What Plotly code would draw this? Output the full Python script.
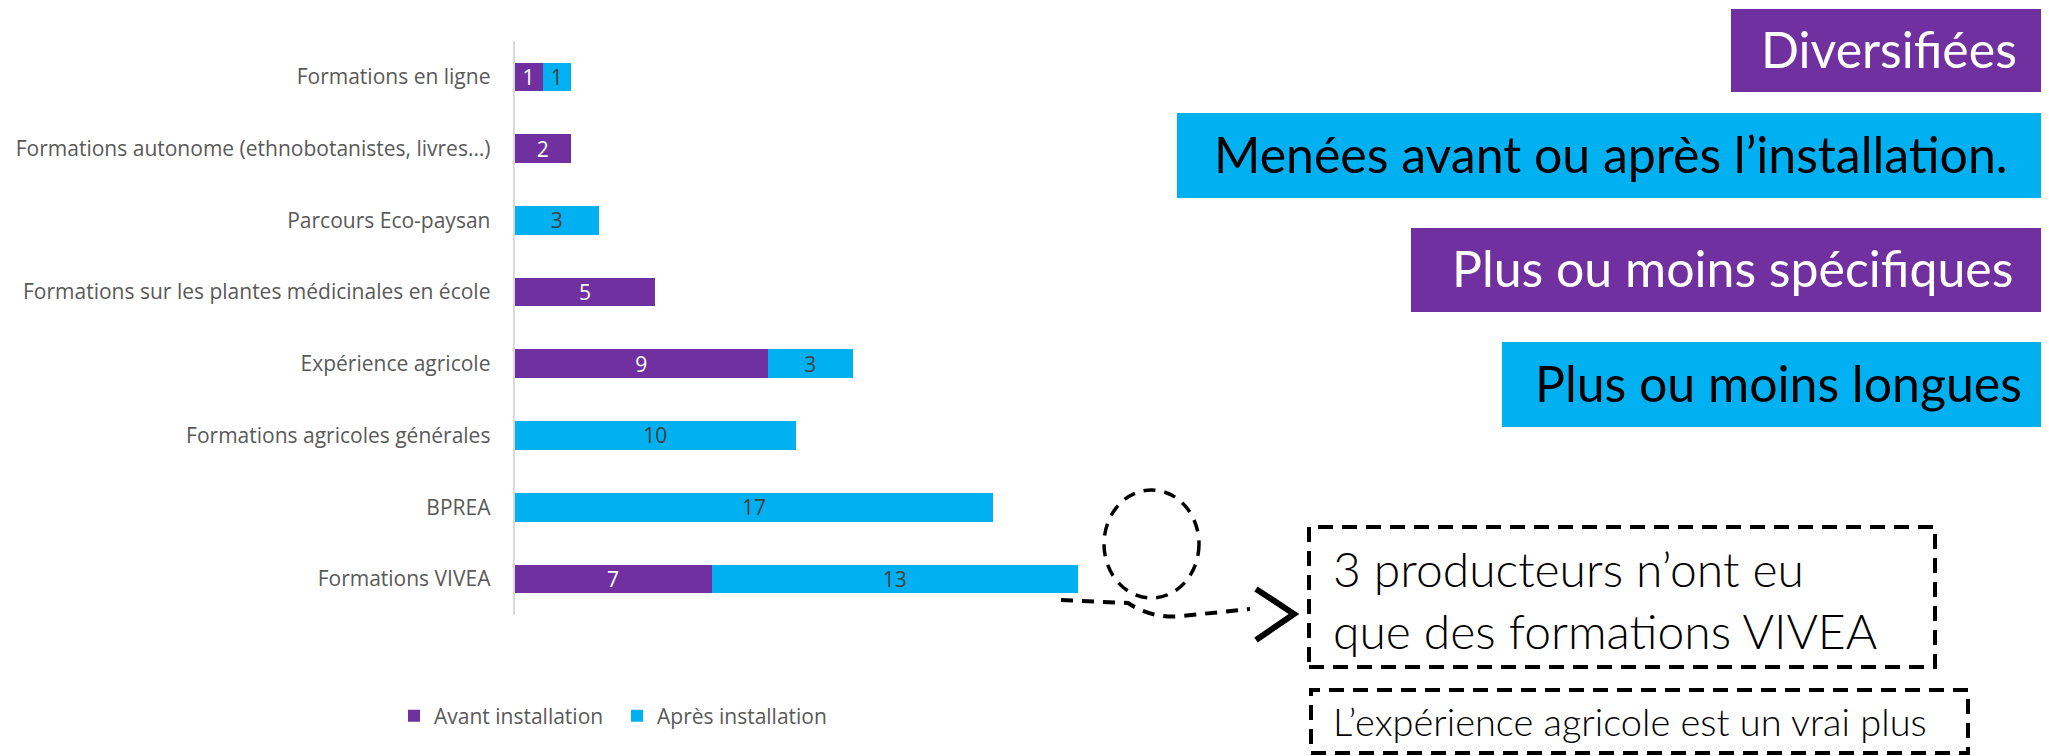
import plotly.graph_objects as go

# ---- data ----
categories = [
    "Formations en ligne",
    "Formations autonome (ethnobotanistes, livres…)",
    "Parcours Eco-paysan",
    "Formations sur les plantes médicinales en école",
    "Expérience agricole",
    "Formations agricoles générales",
    "BPREA",
    "Formations VIVEA",
]
avant = [1, 2, None, 5, 9, None, None, 7]
apres = [1, None, 3, None, 3, 10, 17, 13]
series_names = ["Avant installation", "Après installation"]

side_labels = ["Diversifiées", "Menées avant ou après l’installation.",
               "Plus ou moins spécifiques", "Plus ou moins longues"]
note_main = "3 producteurs n’ont eu<br>que des formations VIVEA"
note_small = "L’expérience agricole est un vrai plus"

PURPLE = "#7030A0"
BLUE = "#00B0F0"
W, H = 2049, 756
OFF = 8  # page body margin offset


def px(x):
    return (x - OFF) / W


def py(y):
    return 1 - (y - OFF) / H


def lbl(vals):
    return ["" if v is None else str(v) for v in vals]


fig = go.Figure()
fig.add_bar(y=categories, x=avant, orientation="h", name=series_names[0],
            marker=dict(color=PURPLE, line=dict(width=0)),
            text=lbl(avant), textposition="inside", insidetextanchor="middle",
            textangle=0,
            textfont=dict(color="white", size=21, family="Open Sans"),
            constraintext="none", hoverinfo="skip")
fig.add_bar(y=categories, x=apres, orientation="h", name=series_names[1],
            marker=dict(color=BLUE, line=dict(width=0)),
            text=lbl(apres), textposition="inside", insidetextanchor="middle",
            textangle=0,
            textfont=dict(color="#404040", size=21, family="Open Sans"),
            constraintext="none", hoverinfo="skip")

unit = 28.17
x0 = 514.5
fig.update_layout(
    width=W, height=H,
    margin=dict(l=0, r=0, t=0, b=0),
    paper_bgcolor="white", plot_bgcolor="white",
    barmode="stack", bargap=0.6,
    showlegend=True,
    legend=dict(orientation="h", x=px(394), y=py(716), xanchor="left", yanchor="middle",
                font=dict(family="Open Sans", size=21, color="#595959"),
                traceorder="normal", entrywidth=178),
    xaxis=dict(domain=[px(x0), 1], range=[0, (W - x0 + OFF) / unit], visible=False,
               showgrid=False, zeroline=False, fixedrange=True),
    yaxis=dict(domain=[py(614.8), py(41)], type="category",
               categoryorder="array", categoryarray=categories, autorange="reversed",
               showline=True, linecolor="#D9D9D9", linewidth=1.7,
               ticks="", showgrid=False, zeroline=False, automargin=False,
               ticklabelstandoff=18,
               tickfont=dict(family="Open Sans", size=21, color="#595959")),
)

shapes = []
annotations = []
# coloured label boxes on the right
boxes = [  # (x_left, y_top, y_bottom, fill, text colour, text right x)
    (1731, 9, 92, PURPLE, "white", 2019),
    (1177, 113, 198, BLUE, "black", 2010),
    (1411, 228, 312, PURPLE, "white", 2015),
    (1502, 342, 427, BLUE, "black", 2024),
]
for (xl, yt, yb, fill, tc, xr), txt in zip(boxes, side_labels):
    shapes.append(dict(type="rect", xref="paper", yref="paper",
                       x0=px(xl), x1=px(W + 20), y0=py(yb), y1=py(yt),
                       fillcolor=fill, line=dict(width=0), layer="below"))
    annotations.append(dict(text=txt, xref="paper", yref="paper",
                            x=px(xr), y=py((yt + yb) / 2 - 2), xanchor="right", yanchor="middle",
                            showarrow=False,
                            font=dict(family="Lato", size=50, color=tc)))

dash = "15px,9px"
# dashed boxes
shapes.append(dict(type="rect", xref="paper", yref="paper",
                   x0=px(1309), x1=px(1935), y0=py(667), y1=py(527),
                   line=dict(color="black", width=4, dash=dash)))
shapes.append(dict(type="rect", xref="paper", yref="paper",
                   x0=px(1311), x1=px(1968), y0=py(753), y1=py(690),
                   line=dict(color="black", width=4, dash=dash)))
# dashed ellipse
shapes.append(dict(type="circle", xref="paper", yref="paper",
                   x0=px(1104), x1=px(1199), y0=py(598), y1=py(490),
                   line=dict(color="black", width=3.5, dash="12px,9px")))
# dashed curved connector
path = (f"M {px(1061)},{py(600)} L {px(1128)},{py(603)} "
        f"Q {px(1152)},{py(619)} {px(1182)},{py(616)} L {px(1250)},{py(609)}")
shapes.append(dict(type="path", xref="paper", yref="paper", path=path,
                   line=dict(color="black", width=4, dash="12px,9px")))
# chevron arrow head
chev = f"M {px(1256)},{py(589)} L {px(1294)},{py(614)} L {px(1256)},{py(640)}"
shapes.append(dict(type="path", xref="paper", yref="paper", path=chev,
                   line=dict(color="black", width=6)))

annotations.append(dict(text=note_main, xref="paper", yref="paper",
                        x=px(1331), y=py(599), xanchor="left", yanchor="middle",
                        align="left", showarrow=False,
                        font=dict(family="Lato", size=48, weight=300, color="black")))
annotations.append(dict(text=note_small, xref="paper", yref="paper",
                        x=px(1331), y=py(721), xanchor="left", yanchor="middle",
                        align="left", showarrow=False,
                        font=dict(family="Lato", size=38, weight=300, color="black")))

fig.update_layout(shapes=shapes, annotations=annotations)
fig.write_html("out.html")
